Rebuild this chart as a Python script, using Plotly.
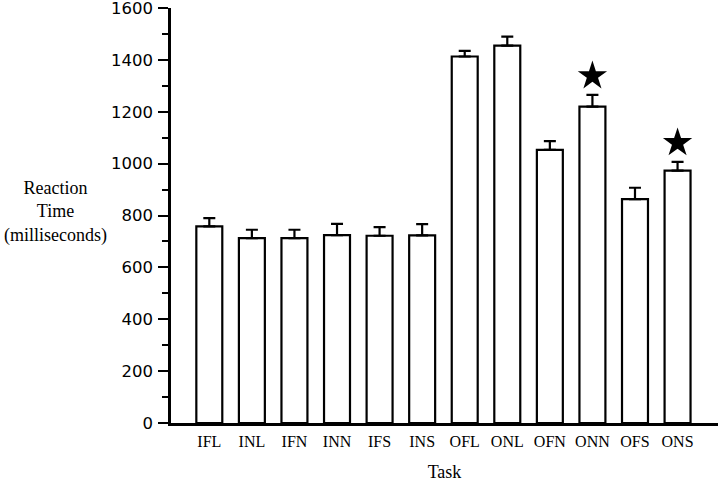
import plotly.graph_objects as go

# Task conditions and mean reaction times (ms)
tasks = ['IFL', 'INL', 'IFN', 'INN', 'IFS', 'INS',
         'OFL', 'ONL', 'OFN', 'ONN', 'OFS', 'ONS']
mean_rt = [758, 713, 713, 724, 722, 723,
           1413, 1455, 1053, 1220, 863, 973]
err_rt = [32, 32, 32, 44, 33, 44,
          22, 35, 34, 45, 44, 34]
significant = [0, 0, 0, 0, 0, 0, 0, 0, 0, 1, 0, 1]

y_ticks = [0, 200, 400, 600, 800, 1000, 1200, 1400, 1600]

# star sits a bit above the error bar cap
star_gap = 73
star_x = [t for t, s in zip(tasks, significant) if s]
star_y = [m + e + star_gap for m, e, s in zip(mean_rt, err_rt, significant) if s]

fig = go.Figure()

fig.add_trace(go.Bar(
    x=tasks,
    y=mean_rt,
    width=0.61,
    marker=dict(color='white', line=dict(color='black', width=2.2)),
    error_y=dict(type='data', symmetric=False, array=err_rt,
                 arrayminus=[0] * len(err_rt),
                 color='black', thickness=2.2, width=6),
    showlegend=False,
))

fig.add_trace(go.Scatter(
    x=star_x,
    y=star_y,
    mode='markers',
    marker=dict(symbol='star', size=22, color='black'),
    showlegend=False,
))

fig.add_annotation(
    text='Reaction<br>Time<br>(milliseconds)',
    xref='paper', yref='paper',
    x=-0.212, y=0.509,
    xanchor='center', yanchor='middle',
    showarrow=False,
    font=dict(family='Liberation Serif', size=18, color='black'),
)

fig.update_layout(
    width=720, height=482,
    margin=dict(l=171, r=2, t=8, b=59),
    plot_bgcolor='white',
    paper_bgcolor='white',
    bargap=0.39,
    xaxis=dict(
        range=[-0.9, 11.95],
        automargin=False,
        showline=True, linecolor='black', linewidth=2.5,
        ticks='', showgrid=False, zeroline=False,
        ticklabelstandoff=2,
        tickfont=dict(family='Liberation Serif', size=16, color='black'),
        title=dict(text='Task', standoff=19,
                   font=dict(family='Liberation Serif', size=18, color='black')),
    ),
    yaxis=dict(
        range=[0, 1600],
        automargin=False,
        tickvals=y_ticks,
        showline=True, linecolor='black', linewidth=2.5,
        ticks='outside', ticklen=10, tickwidth=2.2, tickcolor='black',
        minor=dict(dtick=100, ticks='outside', ticklen=6, tickwidth=2.2,
                   tickcolor='black'),
        showgrid=False, zeroline=False,
        ticklabelstandoff=2,
        ticklabeloverflow='allow',
        tickfont=dict(family='DejaVu Sans', size=16.5, color='black'),
    ),
)

# drop the browser's default 8px body margin so the figure sits at the corner
fig.write_html("out.html", config=dict(displayModeBar=False),
               post_script="document.body.style.margin = '0';")
